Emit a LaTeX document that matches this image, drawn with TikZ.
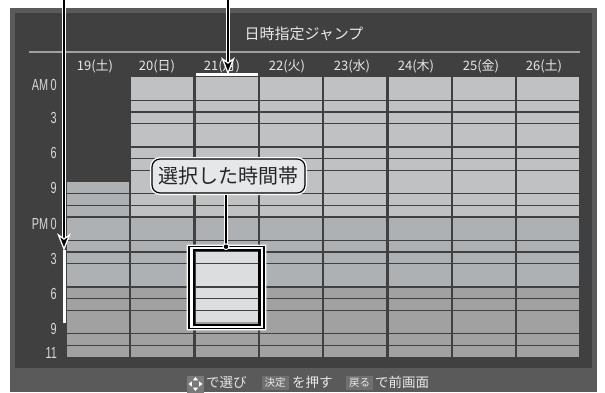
\documentclass[tikz,border=0pt]{standalone}
\usepackage{fontspec}
\setmainfont{Noto Sans CJK JP}
\newfontfamily\jpfont{Noto Sans CJK JP}
\newfontfamily\condfont[FakeStretch=0.68]{Liberation Sans}
\usetikzlibrary{calc}
\definecolor{outerframe}{HTML}{5A5A5A}
\definecolor{screenbg}{HTML}{404040}
\definecolor{cellA}{HTML}{C0C1C3}
\definecolor{cellB}{HTML}{ADB1B3}
\definecolor{cellC}{HTML}{A1A1A1}
\definecolor{cellSel}{HTML}{DCDDDF}
\definecolor{gridline}{HTML}{404040}
\definecolor{sepgray}{HTML}{A0A0A0}
\definecolor{keybox}{HTML}{707070}
\definecolor{iconbox}{HTML}{7A7A7A}
\definecolor{calloutfill}{HTML}{E6E7E8}
\definecolor{txtlight}{HTML}{E8E8E8}
\definecolor{txthour}{HTML}{D8D8D8}
\tikzset{
  titletext/.style={text=txtlight, font=\jpfont\fontsize{15}{15}\selectfont, inner sep=0pt},
  daylabel/.style={text=txtlight, font=\jpfont\fontsize{13}{13}\selectfont, inner sep=0pt},
  hourlabel/.style={text=txthour, font=\condfont\fontsize{16}{16}\selectfont, inner sep=0pt, anchor=east},
  gridrule/.style={draw=gridline, line width=1.2pt},
  sepline/.style={draw=sepgray, line width=1.5pt},
  callout/.style={fill=calloutfill, draw=black, line width=1.2pt, rounded corners=8pt,
    minimum width=153pt, minimum height=34pt, inner sep=0pt, text=black!85,
    font=\jpfont\fontsize{20}{20}\selectfont, preaction={draw=white, line width=4pt}},
  wire/.style={draw=black, line width=1.4pt, preaction={draw=white, line width=4.4pt}},
  bartext/.style={text=txtlight, font=\jpfont\fontsize{13.5}{13.5}\selectfont, inner sep=0pt, anchor=west},
  keylabel/.style={fill=keybox, text=txtlight, font=\jpfont\fontsize{10.5}{10.5}\selectfont,
    minimum width=27pt, minimum height=14pt, inner sep=0pt},
  iconkey/.style={fill=iconbox, minimum width=17pt, minimum height=17pt, inner sep=0pt},
  headfill/.style={fill=black, draw=white, line width=1.3pt, line join=miter},
}
\def\hA{77}
\def\hu{11.667}
\begin{document}
\begin{tikzpicture}[x=1pt,y=-1pt]
\useasboundingbox (0,0) rectangle (605,392);
\fill[white] (0,0) rectangle (605,392);
% frame
\fill[outerframe] (10,8) rectangle (597,392);
\fill[screenbg] (15,13) rectangle (592,368);
% title
\node[titletext] (title) at (304,34) {日時指定ジャンプ};
\draw[sepline] (29,52) -- (580,52);
% day headers
\node[daylabel] (d19) at (95,66) {19(土)};
\node[daylabel] (d20) at (157,66) {20(日)};
\node[daylabel] (d21) at (222,66) {21(月)};
\node[daylabel] (d22) at (287,66) {22(火)};
\node[daylabel] (d23) at (352,66) {23(水)};
\node[daylabel] (d24) at (416,66) {24(木)};
\node[daylabel] (d25) at (481,66) {25(金)};
\node[daylabel] (d26) at (544,66) {26(土)};
% hour labels
\node[hourlabel] (tAM0) at (57,85) {AM\hspace{2.5pt}0};
\node[hourlabel] (t3) at (57,118) {3};
\node[hourlabel] (t6) at (57,153) {6};
\node[hourlabel] (t9) at (57,188) {9};
\node[hourlabel] (tPM0) at (57,224) {PM\hspace{2.5pt}0};
\node[hourlabel] (t15) at (57,259) {3};
\node[hourlabel] (t18) at (57,294) {6};
\node[hourlabel] (t21) at (57,329) {9};
\node[hourlabel] (t23) at (57,353) {11};
% grid: first column (19)
\fill[cellB] (67,{\hA+\hu*9}) rectangle (129,{\hA+\hu*18});
\fill[cellC] (67,{\hA+\hu*18}) rectangle (129,{\hA+\hu*24});
\foreach \h in {10,11,12,14,15,16,18,19,20,22,23}
  \draw[gridrule] (67,{\hA+\hu*\h}) -- (129,{\hA+\hu*\h});
% other columns
\foreach \i in {1,...,7} {
  \pgfmathsetmacro\xa{67+64.3*\i}
  \pgfmathsetmacro\xb{\xa+62}
  \fill[cellA] (\xa,{\hA}) rectangle (\xb,{\hA+\hu*12});
  \fill[cellB] (\xa,{\hA+\hu*12}) rectangle (\xb,{\hA+\hu*18});
  \fill[cellC] (\xa,{\hA+\hu*18}) rectangle (\xb,{\hA+\hu*24});
  \foreach \h in {2,3,4,6,7,8,10,11,12,14,15,16,18,19,20,22,23}
    \draw[gridrule] (\xa,{\hA+\hu*\h}) -- (\xb,{\hA+\hu*\h});
}
% selected cells
\fill[cellSel] (195.6,{\hA+\hu*15}) rectangle (257.6,{\hA+\hu*21});
\foreach \h in {16,18,19,20}
  \draw[gridrule] (195.6,{\hA+\hu*\h}) -- (257.6,{\hA+\hu*\h});
% selection indicators
\fill[white] (196,73) rectangle (257.6,75.5);
\fill[white] (63.3,250) rectangle (66,323);
% selection frame
\fill[white, even odd rule] (186.6,244.6) rectangle (266.4,330.4) (193.8,250) rectangle (259.5,325);
\draw[black, line width=1.3pt] (189,246.7) rectangle (264,328.3);
\draw[black, line width=2.2pt] (193.8,250) rectangle (259.5,325);
% callout
\node[callout] (callout) at (228.5,176) {選択した時間帯};
\coordinate (seltop) at (226,246.7);
\draw[wire] ($(callout.south -| seltop)+(0,1.2)$) -- (seltop);
\fill[black, draw=white, line width=1pt] (seltop) circle (2.9);
% pointer arrows
\coordinate (arrLtop) at (64,0);
\coordinate (arrLtip) at (64,249);
\coordinate (arrRtop) at (228,0);
\coordinate (arrRtip) at (228,73);
\draw[wire] (arrLtop) -- ($(arrLtip)+(0,-10)$);
\draw[wire] (arrRtop) -- ($(arrRtip)+(0,-10)$);
\filldraw[headfill] (arrLtip) -- ($(arrLtip)+(-5.5,-14)$) -- ($(arrLtip)+(0,-10)$) -- ($(arrLtip)+(5.5,-14)$) -- cycle;
\filldraw[headfill] (arrRtip) -- ($(arrRtip)+(-5.5,-14)$) -- ($(arrRtip)+(0,-10)$) -- ($(arrRtip)+(5.5,-14)$) -- cycle;
% bottom bar
\node[iconkey] (navkey) at (195.5,384) {};
\fill[white] ($(navkey)+(0,-7)$) -- ++(-2.6,3.4) -- ++(5.2,0) -- cycle;
\fill[white] ($(navkey)+(0,7)$) -- ++(-2.6,-3.4) -- ++(5.2,0) -- cycle;
\fill[white] ($(navkey)+(-7,0)$) -- ++(3.4,-2.6) -- ++(0,5.2) -- cycle;
\fill[white] ($(navkey)+(7,0)$) -- ++(-3.4,-2.6) -- ++(0,5.2) -- cycle;
\node[bartext] (selectTxt) at (206,382) {で選び};
\node[keylabel] (kettei) at (275,383) {決定};
\node[bartext] (oshu) at (292,382) {を押す};
\node[keylabel] (modoru) at (359.5,383) {戻る};
\node[bartext] (zengamen) at (375,382) {で前画面};
\end{tikzpicture}
\end{document}
